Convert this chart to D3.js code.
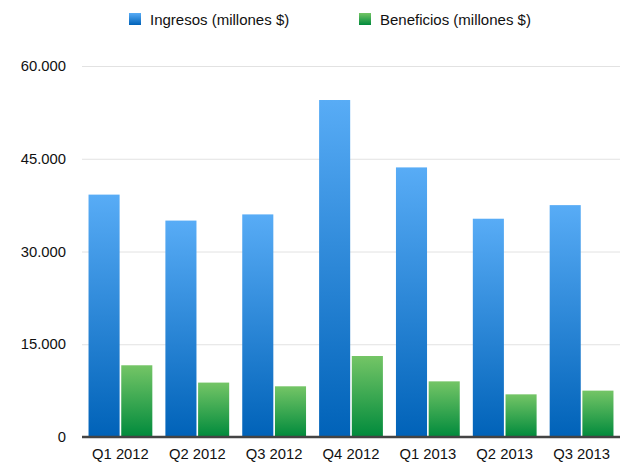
<!DOCTYPE html>
<html>
<head>
<meta charset="utf-8">
<script src="https://cdn.jsdelivr.net/npm/d3@7"></script>
<style>
  body { margin: 0; background: #fff; }
  text { font-family: "Liberation Sans", Arial, sans-serif; fill: #111; }
</style>
</head>
<body>
<div id="chart"></div>
<script>
// datos
const quarters = ["Q1 2012", "Q2 2012", "Q3 2012", "Q4 2012", "Q1 2013", "Q2 2013", "Q3 2013"];
const ingresos = [39200, 35000, 36000, 54500, 43600, 35300, 37500];
const beneficios = [11600, 8800, 8200, 13100, 9000, 6900, 7500];
const seriesNames = ["Ingresos (millones $)", "Beneficios (millones $)"];
const yTicks = [0, 15000, 30000, 45000, 60000];

const width = 636, height = 470;
const margin = { top: 66, right: 16, bottom: 33, left: 82 };

const svg = d3.select("#chart").append("svg")
  .attr("width", width)
  .attr("height", height);

// gradientes
const defs = svg.append("defs");
const grads = [
  { id: "gBlue", top: "#58acf6", bottom: "#0062b8" },
  { id: "gGreen", top: "#74c566", bottom: "#008a3c" }
];
grads.forEach((g) => {
  const lg = defs.append("linearGradient").attr("id", g.id)
    .attr("x1", 0).attr("y1", 0).attr("x2", 0).attr("y2", 1);
  lg.append("stop").attr("offset", "0%").attr("stop-color", g.top);
  lg.append("stop").attr("offset", "100%").attr("stop-color", g.bottom);
});

const x = d3.scaleBand()
  .domain(quarters)
  .range([margin.left, width - margin.right])
  .paddingInner(0.17)
  .paddingOuter(0.085);

const xSub = d3.scaleBand()
  .domain([0, 1])
  .range([0, x.bandwidth()])
  .paddingInner(0.05);

const y = d3.scaleLinear()
  .domain([0, 60000])
  .range([height - margin.bottom, margin.top]);

// rejilla
svg.append("g")
  .selectAll("line")
  .data(yTicks.slice(1))
  .join("line")
  .attr("x1", margin.left)
  .attr("x2", width - margin.right)
  .attr("y1", (d) => y(d) + 0.5)
  .attr("y2", (d) => y(d) + 0.5)
  .attr("stroke", "#e2e2e2")
  .attr("stroke-width", 1);

// eje y
const fmt = d3.formatLocale({ decimal: ",", thousands: ".", grouping: [3], currency: ["", "$"] }).format(",");
svg.append("g")
  .selectAll("text")
  .data(yTicks)
  .join("text")
  .attr("x", 66)
  .attr("y", (d) => y(d))
  .attr("dy", "0.35em")
  .attr("text-anchor", "end")
  .style("font-size", "14.8px")
  .text((d) => fmt(d));

// barras
const groups = svg.append("g")
  .selectAll("g")
  .data(quarters)
  .join("g")
  .attr("transform", (d) => `translate(${x(d)},0)`);

groups.selectAll("rect")
  .data((d, i) => [ingresos[i], beneficios[i]])
  .join("rect")
  .attr("x", (d, j) => xSub(j))
  .attr("width", xSub.bandwidth())
  .attr("y", (d) => y(d))
  .attr("height", (d) => y(0) - y(d))
  .attr("fill", (d, j) => `url(#${grads[j].id})`);

// eje x
const xAxis = svg.append("g")
  .attr("transform", `translate(0,${y(0)})`)
  .call(d3.axisBottom(x).tickSize(0).tickPadding(11));
xAxis.select(".domain")
  .attr("stroke", "#444")
  .attr("stroke-width", 2.5)
  .attr("d", `M${margin.left},0H${width - margin.right}`);
xAxis.selectAll("text")
  .style("font-size", "14.8px")
  .style("font-family", '"Liberation Sans", Arial, sans-serif')
  .attr("fill", "#111");

// leyenda
const legendX = [129, 359];
const legend = svg.append("g")
  .selectAll("g")
  .data(seriesNames)
  .join("g")
  .attr("transform", (d, i) => `translate(${legendX[i]},13)`);
legend.append("rect")
  .attr("width", 12)
  .attr("height", 12)
  .attr("fill", (d, i) => `url(#${grads[i].id})`);
legend.append("text")
  .attr("x", 21)
  .attr("y", 11.5)
  .style("font-size", "15px")
  .text((d) => d);
</script>
</body>
</html>
